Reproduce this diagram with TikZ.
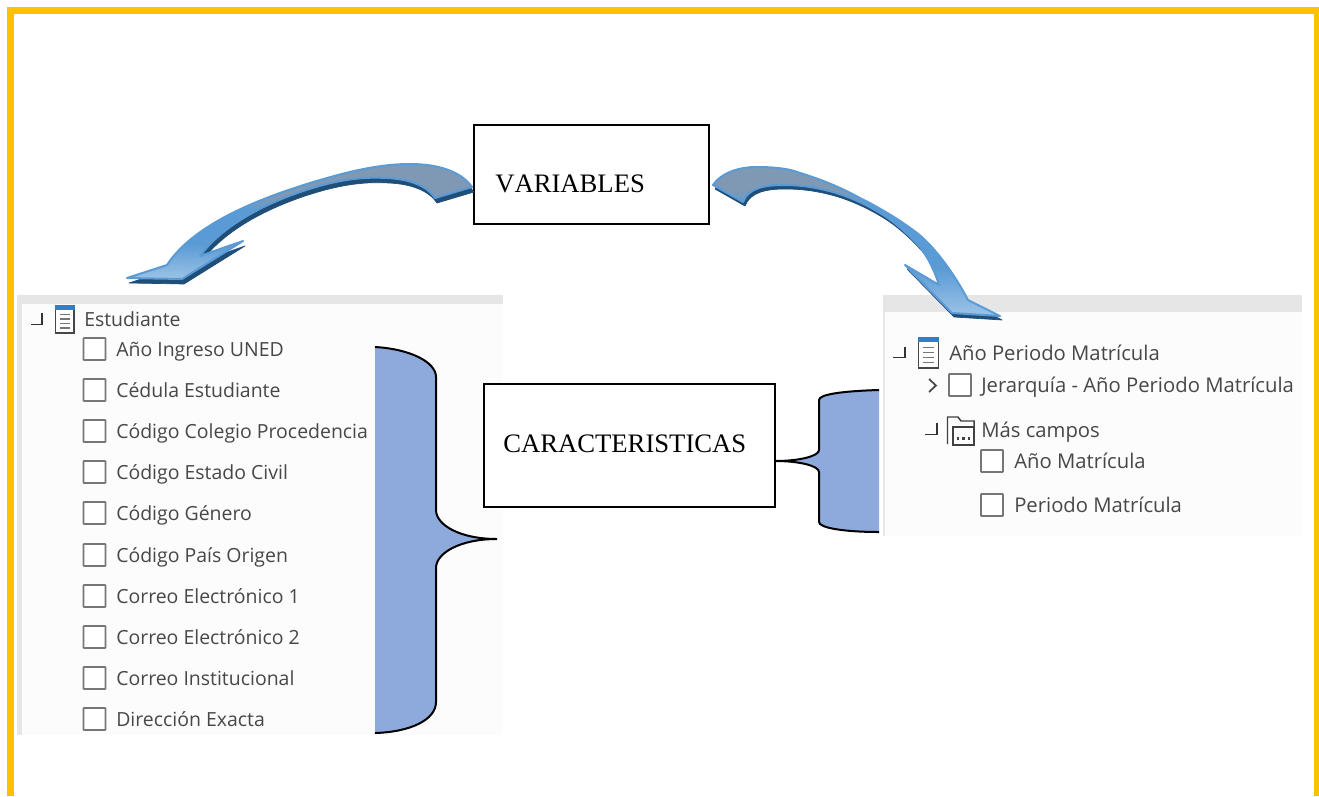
\documentclass[tikz,border=0pt]{standalone}
\usepackage{fontspec}
\setmainfont{Liberation Serif}
\newfontfamily\uifont{Open Sans}
\usetikzlibrary{calc}
\definecolor{frameY}{HTML}{FFC000}
\definecolor{panelG}{HTML}{E6E6E6}
\definecolor{panelW}{HTML}{FCFCFC}
\definecolor{braceB}{HTML}{8EA9DB}
\definecolor{arrowD}{HTML}{1F4E79}
\definecolor{arrowE}{HTML}{5B9BD5}
\definecolor{uiT}{HTML}{474747}
\definecolor{uiB}{HTML}{767676}
\definecolor{iconB}{HTML}{2F7FC8}
\definecolor{arrowL}{HTML}{9DC3E6}
\definecolor{arrowG}{HTML}{7F99B5}
\pgfdeclareverticalshading{leftshade}{100bp}{
  color(0bp)=(arrowL);
  color(25bp)=(arrowL);
  color(40bp)=(arrowE);
  color(55bp)=(arrowE);
  color(60bp)=(arrowG);
  color(75bp)=(arrowG);
  color(100bp)=(arrowG)}
\pgfdeclareverticalshading{rightshade}{100bp}{
  color(0bp)=(arrowL);
  color(25bp)=(arrowL);
  color(41bp)=(arrowE);
  color(62bp)=(arrowE);
  color(67bp)=(arrowG);
  color(75bp)=(arrowG);
  color(100bp)=(arrowG)}
\tikzset{
  every picture/.append style={x=0.75pt,y=-0.75pt},
  labelbox/.style={draw=black,line width=1.5pt,fill=white},
  boxtext/.style={font=\fontsize{20}{24}\selectfont,anchor=base west,inner sep=0pt,text=black},
  uitext/.style={font=\uifont\fontsize{14.6}{18}\selectfont,anchor=base west,inner sep=0pt,text=uiT},
  uitextR/.style={font=\uifont\fontsize{15.2}{18}\selectfont,anchor=base west,inner sep=0pt,text=uiT},
  uibox/.style={draw=uiB,line width=1.4pt,fill=white,rounded corners=0.5pt,minimum width=16.5pt,minimum height=16.5pt,inner sep=0pt},
  treeline/.style={draw=black!80,line width=1.1pt},
  bracefill/.style={fill=braceB},
  braceline/.style={draw=black,line width=1.5pt},
  arrowface/.style={draw=arrowE,line width=1.5pt,line join=round},
  arrowback/.style={fill=arrowD,draw=arrowD,line width=.5pt,line join=round},
}
\newcommand{\LeftArrowPath}{
  (472,187) .. controls (460,170) and (435,164) .. (410,164)
  .. controls (375,164) and (340,174) .. (310,183)
  .. controls (265,197) and (195,222) .. (167,265)
  -- (127,278) -- (182,279) -- (243,241) -- (200,256)
  .. controls (225,222) and (275,198) .. (323,185)
  .. controls (350,178) and (368,177) .. (387,178)
  .. controls (410,179) and (427,186) .. (435,198) -- cycle}
\newcommand{\RightArrowPath}{
  (713,185) .. controls (722,172) and (740,167) .. (757,167)
  .. controls (775,167) and (790,169) .. (797,172)
  .. controls (820,179) and (840,187) .. (860,198)
  .. controls (880,208) and (900,220) .. (917,233)
  .. controls (935,247) and (955,275) .. (968,300)
  -- (1000,316) -- (952,313) -- (905,265) -- (939,285)
  .. controls (935,272) and (928,257) .. (920,247)
  .. controls (908,234) and (895,222) .. (880,213)
  .. controls (865,204) and (850,197) .. (833,192)
  .. controls (815,187) and (800,185) .. (783,185)
  .. controls (765,185) and (748,188) .. (743,202) -- cycle}
\newcommand{\UiRow}[4]{% name, box-left, centre y, text
  \node[uibox,anchor=center] (#1box) at (#2+11,#3) {};
  \node[uitext] (#1) at (#2+32.5,#3+7) {#4};
}
\newcommand{\UiRowR}[4]{%
  \node[uibox,anchor=center] (#1box) at (#2+11,#3) {};
  \node[uitextR] (#1) at (#2+33,#3+7) {#4};
}
\begin{document}
\begin{tikzpicture}
\useasboundingbox (0,0) rectangle (1319,796);
\fill[white] (0,0) rectangle (1319,796);
% yellow frame (open at the bottom, runs off the right edge)
\fill[frameY] (7,7) rectangle (1319,14);
\fill[frameY] (7,7) rectangle (14,796);
\fill[frameY] (1314,7) rectangle (1319,796);
% left panel
\fill[panelG] (17,295) rectangle (503,735);
\fill[panelW] (22,304) rectangle (503,735);
% right panel
\fill[panelG] (883,295) rectangle (1302,536);
\fill[panelW] (885,312) rectangle (1302,536);
% left tree
\draw[treeline] (31,324.5) -- (42,324.5) -- (42,313);
\draw[uiB!60!black,line width=1.2pt,fill=white] (55.5,306) rectangle (74,333);
\fill[iconB] (55,305) rectangle (74.5,309.5);
\foreach \yy in {314.5,319,323.5,328}{\draw[uiB,line width=1pt] (60,\yy) -- (69.5,\yy);}
\node[uitext] (est) at (84,326) {Estudiante};
\UiRow{a}{83.5}{349}{Año Ingreso UNED}
\UiRow{b}{83.5}{390}{Cédula Estudiante}
\UiRow{c}{83.5}{431}{Código Colegio Procedencia}
\UiRow{d}{83.5}{472}{Código Estado Civil}
\UiRow{e}{83.5}{513}{Código Género}
\UiRow{f}{83.5}{555}{Código País Origen}
\UiRow{g}{83.5}{596}{Correo Electrónico 1}
\UiRow{h}{83.5}{637}{Correo Electrónico 2}
\UiRow{i}{83.5}{678}{Correo Institucional}
\UiRow{j}{83.5}{719}{Dirección Exacta}
% right tree
\draw[treeline] (893,357.5) -- (905,357.5) -- (905,347);
\draw[uiB!60!black,line width=1.2pt,fill=white] (918.5,338) rectangle (938.5,368);
\fill[iconB] (918,337) rectangle (939,342);
\foreach \yy in {347.5,352.5,357.5,362.5}{\draw[uiB,line width=1pt] (923,\yy) -- (934,\yy);}
\node[uitextR] (apm) at (949,360) {Año Periodo Matrícula};
\draw[uiB!60!black,line width=1.3pt] (929,379) -- (936,385.5) -- (929,392);
\node[uibox] (jbox) at (960,385) {};
\node[uitextR] (jer) at (981,392) {Jerarquía - Año Periodo Matrícula};
\draw[treeline] (925,434.5) -- (937,434.5) -- (937,423);
\draw[black!75,line width=1.1pt] (947.5,444) -- (947.5,417) -- (958,417) -- (961,421) -- (974,421) -- (974,427);
\draw[black!75,line width=1.2pt] (953,427) -- (974,427) -- (974,445) -- (953,445) -- cycle;
\foreach \xx in {958,963.5,969}{\fill[black!75] (\xx-1.3,436.5) rectangle (\xx+1.3,439.5);}
\node[uitextR] (mas) at (981,437) {Más campos};
\UiRowR{k}{981}{461}{Año Matrícula}
\UiRowR{l}{981}{505}{Periodo Matrícula}
% braces
\fill[bracefill] (375,347) .. controls (410,349) and (436,362) .. (436,377) -- (436,510)
  .. controls (436,525) and (460,539) .. (497,539)
  .. controls (460,539) and (436,553) .. (436,568) -- (436,702)
  .. controls (436,720) and (410,732) .. (375,733) -- cycle;
\draw[braceline] (375,347) .. controls (410,349) and (436,362) .. (436,377) -- (436,510)
  .. controls (436,525) and (460,539) .. (497,539)
  .. controls (460,539) and (436,553) .. (436,568) -- (436,702)
  .. controls (436,720) and (410,732) .. (375,733);
\fill[bracefill] (879,390) .. controls (845,391) and (819,394) .. (819,400) -- (819,450)
  .. controls (819,456) and (800,461) .. (775,461)
  .. controls (800,461) and (819,466) .. (819,472) -- (819,522)
  .. controls (819,528) and (845,532) .. (879,532) -- cycle;
\draw[braceline] (879,390) .. controls (845,391) and (819,394) .. (819,400) -- (819,450)
  .. controls (819,456) and (800,461) .. (775,461)
  .. controls (800,461) and (819,466) .. (819,472) -- (819,522)
  .. controls (819,528) and (845,532) .. (879,532);
% label boxes
\node[labelbox,anchor=north west,minimum width=176pt,minimum height=74pt,inner sep=0pt] (vars) at (473,124) {};
\node[boxtext] (varstext) at (495,192) {\addfontfeature{Kerning=Off}VARIABLES};
\node[labelbox,anchor=north west,minimum width=218.5pt,minimum height=92pt,inner sep=0pt] (cars) at (482.5,383) {};
\node[boxtext] (carstext) at (503,452) {CARACTERISTICAS};
% curved arrows
\begin{scope}[shift={(2,5)}]\path[arrowback] \LeftArrowPath;\end{scope}
\path[arrowface,shading=leftshade] \LeftArrowPath;
\begin{scope}[shift={(2,4)}]\path[arrowback] \RightArrowPath;\end{scope}
\path[arrowface,shading=rightshade] \RightArrowPath;
\end{tikzpicture}
\end{document}
